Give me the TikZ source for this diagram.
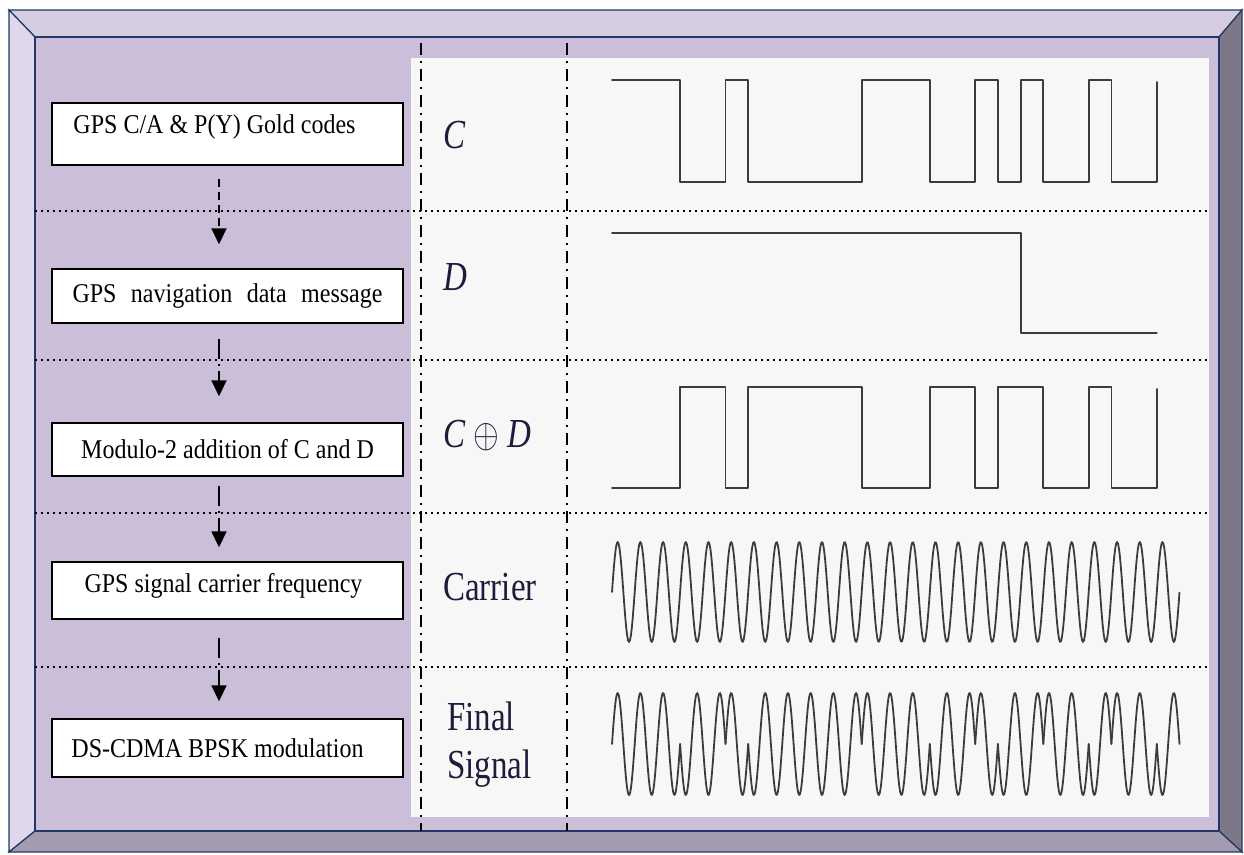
\documentclass[tikz,border=0pt]{standalone}
\usepackage{fix-cm}
\usepackage{fontspec}
\setmainfont{Liberation Serif}
\usepackage{graphicx}
\usetikzlibrary{arrows.meta, positioning}
\definecolor{framenavy}{HTML}{203864}
\definecolor{beveltop}{HTML}{D5CCE0}
\definecolor{bevelleft}{HTML}{DED8EA}
\definecolor{bevelright}{HTML}{7D7788}
\definecolor{bevelbottom}{HTML}{A49BB1}
\definecolor{face}{HTML}{CBBED8}
\definecolor{panel}{HTML}{F7F7F7}
\definecolor{wavegray}{HTML}{3C3C3C}
\definecolor{labelink}{HTML}{1C1C3C}
\newcommand{\tallbox}[1]{\scalebox{1}[1.13]{#1}}
\newcommand{\talllabel}[1]{\scalebox{1}[1.25]{#1}}

\begin{document}
\begin{tikzpicture}[x=1pt, y=-1pt,
  stepbox/.style={draw=black, fill=white, line width=1.4pt, minimum width=351pt,
    inner sep=0pt, font=\fontsize{24}{28}\selectfont},
  flow/.style={line width=1.8pt, dash pattern=on 20pt off 5pt on 2pt off 5pt,
    -{Triangle[width=15pt,length=16pt]}},
  sep/.style={line width=1.5pt, dash pattern=on 1.5pt off 4.5pt},
  divider/.style={line width=2.4pt, dash pattern=on 12pt off 6pt on 2pt off 6pt},
  wave/.style={draw=wavegray, line width=1.8pt, line join=round, line cap=round},
  siglabel/.style={anchor=base west, inner sep=0pt, text=labelink,
    font=\fontsize{33}{40}\selectfont}]
\useasboundingbox (0,0) rectangle (1244,854);

% bevelled frame
\filldraw[fill=beveltop, draw=framenavy, line width=1.2pt]
  (9,10) -- (1242,10) -- (1219,37) -- (35,37) -- cycle;
\filldraw[fill=bevelleft, draw=framenavy, line width=1.2pt]
  (9,10) -- (35,37) -- (35,831) -- (9,852) -- cycle;
\filldraw[fill=bevelright, draw=framenavy, line width=1.2pt]
  (1242,10) -- (1242,852) -- (1219,831) -- (1219,37) -- cycle;
\filldraw[fill=bevelbottom, draw=framenavy, line width=1.2pt]
  (9,852) -- (35,831) -- (1219,831) -- (1242,852) -- cycle;
\filldraw[fill=face, draw=framenavy, line width=1.2pt] (35,37) rectangle (1219,831);
\fill[panel] (411,58) rectangle (1209,817);

% row and column separators
\foreach \y in {211,360,513,667}
  \draw[sep] (35,\y) -- (1209,\y);
\foreach \x in {421,567}
  \draw[divider] (\x,43) -- (\x,831);

% processing steps
\node[stepbox, minimum height=62pt, text depth=20pt] (codes) at (227.5,134)
  {\tallbox{GPS C/A \& P(Y) Gold codes}\hspace*{26pt}};
\node[stepbox, minimum height=54pt] (navmsg) at (227.5,296)
  {\tallbox{\makebox[310pt][s]{GPS navigation data message}}};
\node[stepbox, minimum height=53pt] (modsum) at (227.5,449.5)
  {\tallbox{Modulo-2 addition of C and D}};
\node[stepbox, minimum height=57pt, text depth=16pt] (carrierfreq) at (227.5,590.5)
  {\tallbox{GPS signal carrier frequency}\hspace*{8pt}};
\node[stepbox, minimum height=58pt] (bpsk) at (227.5,748)
  {\tallbox{DS-CDMA BPSK modulation}\hspace*{20pt}};

\draw[flow, dash pattern=on 8pt off 5pt, shorten <=13pt, shorten >=24pt]
  ([xshift=-8.5pt]codes.south) -- ([xshift=-8.5pt]navmsg.north);
\draw[flow, shorten <=15pt, shorten >=26pt]
  ([xshift=-8.5pt]navmsg.south) -- ([xshift=-8.5pt]modsum.north);
\draw[flow, shorten <=9pt, shorten >=14pt]
  ([xshift=-8.5pt]modsum.south) -- ([xshift=-8.5pt]carrierfreq.north);
\draw[flow, shorten <=18pt, shorten >=17pt]
  ([xshift=-8.5pt]carrierfreq.south) -- ([xshift=-8.5pt]bpsk.north);

% signal names
\node[siglabel] (lblC) at (443,148) {\talllabel{\textit{C}}};
\node[siglabel] (lblD) at (443,290) {\talllabel{\textit{D}}};
\node[siglabel] (lblCD) at (443,447) {\talllabel{\textit{C} $\oplus$ \textit{D}}};
\node[siglabel] (lblcarrier) at (443,600) {\talllabel{Carrier}};
\node[siglabel, align=left] (lblfinal) at (447,778)
  {\talllabel{Final}\\[8pt]\talllabel{Signal}};

% waveforms, chip = 22.7
\draw[wave] (612,80) -- (680.1,80) -- (680.1,182) -- (725.5,182) -- (725.5,80)
  -- (748.2,80) -- (748.2,182) -- (861.7,182) -- (861.7,80) -- (929.8,80)
  -- (929.8,182) -- (975.2,182) -- (975.2,80) -- (997.9,80) -- (997.9,182)
  -- (1020.6,182) -- (1020.6,80) -- (1043.3,80) -- (1043.3,182) -- (1088.7,182)
  -- (1088.7,80) -- (1111.4,80) -- (1111.4,182) -- (1156.8,182) -- (1156.8,82);
\draw[wave] (612,233) -- (1020.6,233) -- (1020.6,333) -- (1156.8,333);
\draw[wave] (612,488) -- (680.1,488) -- (680.1,387) -- (725.5,387) -- (725.5,488)
  -- (748.2,488) -- (748.2,387) -- (861.7,387) -- (861.7,488) -- (929.8,488)
  -- (929.8,387) -- (975.2,387) -- (975.2,488) -- (997.9,488) -- (997.9,387)
  -- (1043.3,387) -- (1043.3,488) -- (1088.7,488) -- (1088.7,387) -- (1111.4,387)
  -- (1111.4,488) -- (1156.8,488) -- (1156.8,389);
\draw[wave] plot[domain=0:25, samples=600] ({612+22.7*\x},{592-50*sin(360*\x)});
\foreach \s [count=\k from 0] in {1,1,1,-1,-1,1,-1,-1,-1,-1,-1,1,1,1,-1,-1,1,-1,-1,1,1,-1,1,1,-1} {
  \pgfmathtruncatemacro{\kend}{\k+1}
  \draw[wave] plot[domain=\k:\kend, samples=30] ({612+22.7*\x},{744-51*\s*sin(360*\x)});
}
\end{tikzpicture}
\end{document}
